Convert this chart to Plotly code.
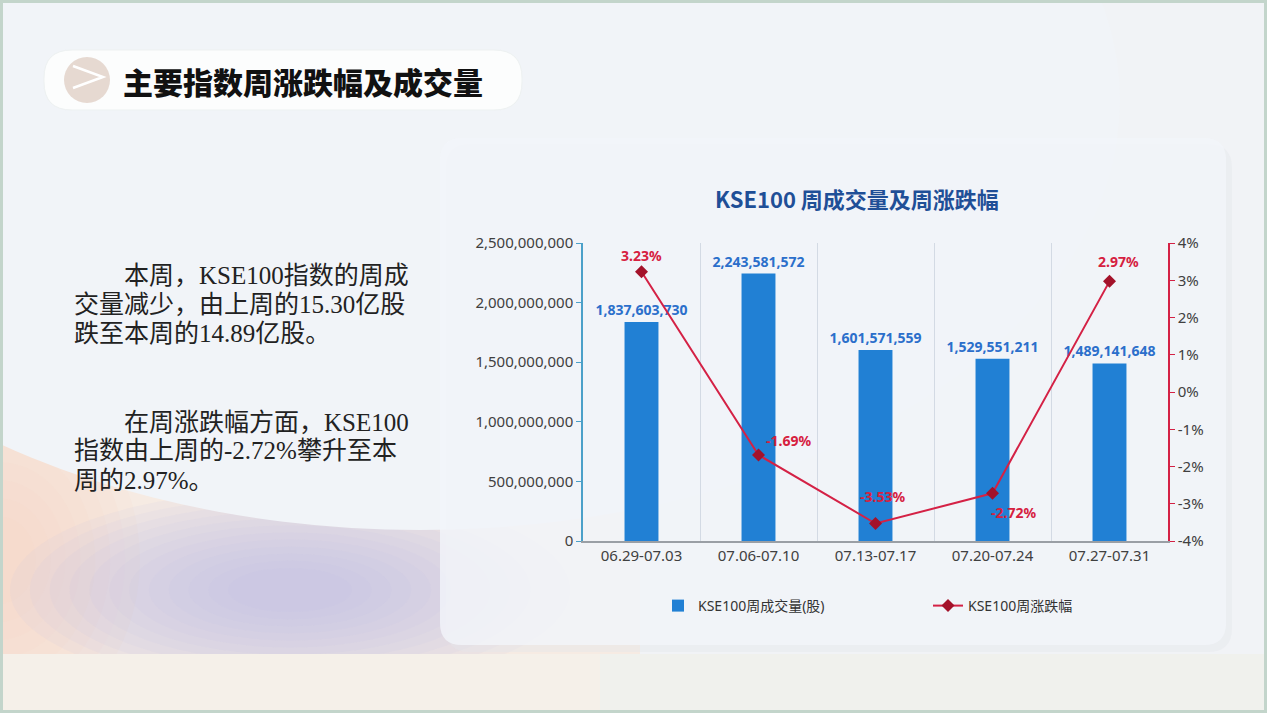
import plotly.graph_objects as go

W, H = 1267, 713

# data
weeks = ["06.29-07.03", "07.06-07.10", "07.13-07.17", "07.20-07.24", "07.27-07.31"]
volume = [1837603730, 2243581572, 1601571559, 1529551211, 1489141648]
change_pct = [3.23, -1.69, -3.53, -2.72, 2.97]
pct_ticks = [-4, -3, -2, -1, 0, 1, 2, 3, 4]
pct_tick_text = ["-4%", "-3%", "-2%", "-1%", "0%", "1%", "2%", "3%", "4%"]
# label offsets (px) for the % labels
label_dx = [0, 30, 7, 21, 9]
label_dy = [16, 14, 27, -19, 20]

left_text = [
    "　　本周，KSE100指数的周成",
    "交量减少，由上周的15.30亿股",
    "跌至本周的14.89亿股。",
    "",
    "　　在周涨跌幅方面，KSE100",
    "指数由上周的-2.72%攀升至本",
    "周的2.97%。",
]


def px(x):
    return x / W


def py(y):
    return 1 - y / H


def rounded_rect(x0, y0, x1, y1, r):
    # path in paper coords, pixel input
    pts = [
        f"M {px(x0 + r)} {py(y0)}",
        f"L {px(x1 - r)} {py(y0)}",
        f"Q {px(x1)} {py(y0)} {px(x1)} {py(y0 + r)}",
        f"L {px(x1)} {py(y1 - r)}",
        f"Q {px(x1)} {py(y1)} {px(x1 - r)} {py(y1)}",
        f"L {px(x0 + r)} {py(y1)}",
        f"Q {px(x0)} {py(y1)} {px(x0)} {py(y1 - r)}",
        f"L {px(x0)} {py(y0 + r)}",
        f"Q {px(x0)} {py(y0)} {px(x0 + r)} {py(y0)}",
        "Z",
    ]
    return " ".join(pts)


def blob(cx, cy, rx, ry, color, steps=10, alpha=0.08):
    # stack of ellipses to fake a soft blurred blob
    out = []
    for k in range(steps):
        f = 1 - k * (0.85 / steps)
        out.append(dict(type="circle", xref="paper", yref="paper",
                        x0=px(cx - rx * f), x1=px(cx + rx * f),
                        y0=py(cy + ry * f), y1=py(cy - ry * f),
                        fillcolor=color, opacity=alpha, line=dict(width=0), layer="below"))
    return out


fig = go.Figure()

fig.add_trace(go.Bar(
    x=weeks, y=volume, name="KSE100周成交量(股)",
    marker=dict(color="#2180d4", line=dict(width=0)),
    text=[f"{v:,}" for v in volume], textposition="outside", constraintext="none",
    textfont=dict(family="Noto Sans", size=14, color="#2b6fcb", weight="bold"),
    cliponaxis=False, yaxis="y",
))
fig.add_trace(go.Scatter(
    x=weeks, y=change_pct, name="KSE100周涨跌幅", mode="lines+markers",
    line=dict(color="#d42145", width=2),
    marker=dict(symbol="diamond", size=10, color="#a3122a"),
    yaxis="y2", cliponaxis=False,
))

shapes = []
# page background pieces
shapes.append(dict(type="rect", xref="paper", yref="paper", x0=0, x1=1, y0=0, y1=1,
                   fillcolor="#f1f3f6", line=dict(width=0), layer="below"))
shapes.append(dict(type="rect", xref="paper", yref="paper", x0=px(0), x1=px(640), y0=py(713), y1=py(400),
                   fillcolor="#f6ebe3", line=dict(width=0), layer="below"))
shapes += blob(0, 560, 140, 170, "#f7d8c4", steps=8, alpha=0.12)
shapes += blob(290, 590, 280, 100, "#b9bbe6", steps=12, alpha=0.09)
shapes.append(dict(type="circle", xref="paper", yref="paper", x0=px(-280), x1=px(1120), y0=py(530), y1=py(-330),
                   fillcolor="#f1f4f8", line=dict(width=0), layer="below"))
shapes.append(dict(type="rect", xref="paper", yref="paper", x0=0, x1=1, y0=py(713), y1=py(654),
                   fillcolor="#f5f0e9", line=dict(width=0), layer="below"))
shapes.append(dict(type="rect", xref="paper", yref="paper", x0=px(600), x1=1, y0=py(713), y1=py(654),
                   fillcolor="#eff1ee", opacity=0.8, line=dict(width=0), layer="below"))
# chart card with soft shadow
shapes.append(dict(type="path", xref="paper", yref="paper", path=rounded_rect(446, 144, 1232, 652, 24),
                   fillcolor="#e3e7ea", opacity=0.4, line=dict(width=0), layer="below"))
shapes.append(dict(type="path", xref="paper", yref="paper", path=rounded_rect(440, 138, 1226, 645, 22),
                   fillcolor="#f2f5fa", opacity=0.8, line=dict(width=0), layer="below"))
# title pill
shapes.append(dict(type="path", xref="paper", yref="paper", path=rounded_rect(44, 50, 522, 110, 28),
                   fillcolor="#fcfdfd", line=dict(color="#edf1f1", width=1), layer="below"))
shapes.append(dict(type="circle", xref="paper", yref="paper", x0=px(64), x1=px(110), y0=py(103), y1=py(57),
                   fillcolor="#e6d9d1", line=dict(width=0), layer="below"))
shapes.append(dict(type="path", xref="paper", yref="paper",
                   path=f"M {px(73)} {py(66)} L {px(103)} {py(77)} L {px(73)} {py(88)}",
                   line=dict(color="#ffffff", width=2.5), layer="below"))
# page border
shapes.append(dict(type="rect", xref="paper", yref="paper", x0=0, x1=1, y0=0, y1=1,
                   line=dict(color="#c3d5cb", width=6), fillcolor="rgba(0,0,0,0)", layer="above"))

annotations = []
annotations.append(dict(text="主要指数周涨跌幅及成交量", xref="paper", yref="paper",
                        x=px(121), y=py(81), xanchor="left", yanchor="middle", showarrow=False,
                        font=dict(family="Noto Sans CJK SC", size=30, color="#111111", weight=900)))
annotations.append(dict(text="<b>KSE100 周成交量及周涨跌幅</b>", xref="paper", yref="paper",
                        x=px(857), y=py(198), xanchor="center", yanchor="middle", showarrow=False,
                        font=dict(family="Noto Sans CJK SC", size=22, color="#1f4f97")))
for i, line in enumerate(left_text):
    if not line:
        continue
    y = 275 + i * 29 if i < 3 else 422 + (i - 4) * 29
    annotations.append(dict(text=line, xref="paper", yref="paper", x=px(72), y=py(y),
                            xanchor="left", yanchor="middle", showarrow=False,
                            font=dict(family="Liberation Serif, Noto Sans CJK SC", size=25, color="#222222")))
for wk, v, dx, dy in zip(weeks, change_pct, label_dx, label_dy):
    annotations.append(dict(text=f"<b>{v:.2f}%</b>", x=wk, y=v, xref="x", yref="y2",
                            xshift=dx, yshift=dy, showarrow=False,
                            font=dict(family="Noto Sans", size=14, color="#d6203f")))

fig.update_layout(
    template="none",
    width=W, height=H,
    margin=dict(l=0, r=0, t=0, b=0, pad=0),
    paper_bgcolor="#f1f3f6", plot_bgcolor="rgba(0,0,0,0)",
    shapes=shapes, annotations=annotations,
    bargap=0.71, showlegend=True,
    font=dict(family="Noto Sans", color="#404040"),
    legend=dict(orientation="h", x=px(658), y=py(606), xanchor="left", yanchor="middle",
                bgcolor="rgba(0,0,0,0)", font=dict(family="Noto Sans, Noto Sans CJK SC", size=14, color="#333333"),
                entrywidth=225, entrywidthmode="pixels"),
    xaxis=dict(domain=[px(583), px(1168)], automargin=False, showgrid=True, gridcolor="#d3dae4", gridwidth=1,
               tickson="boundaries", ticks="outside", ticklen=8, tickcolor="rgba(0,0,0,0)",
               showline=True, linecolor="#9a9fa5", linewidth=1.5, zeroline=False,
               tickfont=dict(family="Noto Sans", size=15, color="#404040")),
    yaxis=dict(domain=[py(541), py(243)], automargin=False, range=[0, 2.5e9], dtick=5e8, tickformat=",",
               showgrid=False, zeroline=False, showline=True, linecolor="#4ba0c9", linewidth=1.5,
               ticks="outside", ticklen=5, tickcolor="#4ba0c9",
               tickfont=dict(family="Noto Sans", size=15, color="#404040")),
    yaxis2=dict(overlaying="y", side="right", automargin=False, range=[-4, 4],
                tickvals=pct_ticks, ticktext=pct_tick_text,
                showgrid=False, zeroline=False, showline=True, linecolor="#d42145", linewidth=1.5,
                ticks="outside", ticklen=5, tickcolor="#d42145",
                tickfont=dict(family="Noto Sans", size=15, color="#404040")),
)

fig.write_html("out.html", config={"displayModeBar": False},
               post_script="document.body.style.margin='0';document.body.style.overflow='hidden';")
